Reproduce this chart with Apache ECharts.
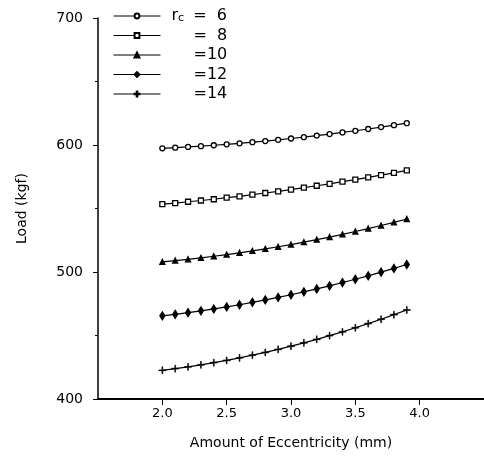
<!DOCTYPE html>
<html><head><meta charset="utf-8">
<script src="https://cdn.jsdelivr.net/npm/echarts@6/dist/echarts.min.js"></script>
<style>html,body{margin:0;padding:0;background:#fff}#c{width:484px;height:457px}</style>
</head><body><div id="c"></div>
<script>
// Data
const ecc = [2.0,2.1,2.2,2.3,2.4,2.5,2.6,2.7,2.8,2.9,3.0,3.1,3.2,3.3,3.4,3.5,3.6,3.7,3.8,3.9];
const rc6  = [597.4,597.9,598.5,599.1,599.8,600.5,601.3,602.2,603.1,604.1,605.1,606.2,607.4,608.6,609.9,611.2,612.6,614.1,615.6,617.2];
const rc8  = [553.4,554.3,555.3,556.3,557.3,558.5,559.6,560.9,562.2,563.5,564.9,566.4,567.9,569.4,571.1,572.7,574.5,576.3,578.1,580.0];
const rc10 = [508.0,509.0,510.0,511.1,512.4,513.7,515.1,516.6,518.2,519.9,521.6,523.5,525.5,527.5,529.6,531.9,534.2,536.6,539.1,541.7];
const rc12 = [465.5,466.7,468.0,469.4,470.9,472.5,474.2,476.1,478.0,480.0,482.1,484.4,486.7,489.1,491.7,494.3,497.0,499.9,502.8,505.9];
const rc14 = [422.6,423.9,425.3,426.9,428.6,430.4,432.4,434.5,436.7,439.1,441.6,444.2,447.0,449.9,452.9,456.1,459.4,462.8,466.4,470.1];
const xTicks = [2.0,2.5,3.0,3.5,4.0];
const seriesNames = ['6','8','10','12','14'];

const plus = 'path://M0,2.2 L2.2,2.2 L2.2,0 L2.8,0 L2.8,2.2 L5,2.2 L5,2.8 L2.8,2.8 L2.8,5 L2.2,5 L2.2,2.8 L0,2.8 Z';
const styles = [
  {symbol:'circle', size:5, fill:'#fff'},
  {symbol:'rect', size:5, fill:'#fff'},
  {symbol:'triangle', size:5, fill:'#000'},
  {symbol:'diamond', size:[5,8], fill:'#000'},
  {symbol:plus, size:7, fill:'#000'}
];
const allData = [rc6, rc8, rc10, rc12, rc14];
const font = '"DejaVu Sans", sans-serif';

const series = allData.map((d,i)=>({
  name: seriesNames[i],
  type:'line',
  data: d.map((v,j)=>[ecc[j], v]),
  symbol: styles[i].symbol,
  symbolSize: styles[i].size,
  showAllSymbol: true,
  lineStyle:{color:'#000', width:1.2},
  itemStyle:{color: styles[i].fill, borderColor:'#000', borderWidth: i===4 ? 0.6 : 1.3},
  emphasis:{disabled:true},
  animation:false
}));

const chart = echarts.init(document.getElementById('c'));
chart.setOption({
  animation:false,
  backgroundColor:'#fff',
  grid:{left:98, right:-2, top:18, bottom:58},
  legend:{
    orient:'vertical', left:108, top:3, itemWidth:47, itemHeight:6, itemGap:3.5,
    data: seriesNames,
    lineStyle:{width:1},
    formatter: function(n){
      if(n==='6') return '{r|r}{c|c}{e1|=  6}';
      return '{sp| }{e|=' + (n.length===1 ? '  ' + n : n) + '}';
    },
    textStyle:{
      fontFamily:font, color:'#000', fontSize:16, lineHeight:16,
      rich:{
        r:{fontSize:16, padding:[0,0,0,6], fontFamily:font, color:'#000'},
        c:{fontSize:11, verticalAlign:'bottom', padding:[6,0,0,0], fontFamily:font, color:'#000'},
        e1:{fontSize:16, padding:[0,0,0,9], fontFamily:font, color:'#000'},
        sp:{width:28, fontSize:16},
        e:{fontSize:16, fontFamily:font, color:'#000'}
      }
    }
  },
  xAxis:{
    type:'value', min:1.5, max:4.5, interval:0.5,
    name:'Amount of Eccentricity (mm)', nameLocation:'middle', nameGap:37,
    nameTextStyle:{fontFamily:font, fontSize:14, color:'#000'},
    axisLine:{show:true, lineStyle:{color:'#000', width:2}},
    axisTick:{show:true, length:6, inside:false, customValues:xTicks, lineStyle:{color:'#000', width:1}},
    axisLabel:{customValues:xTicks, fontFamily:font, fontSize:13, color:'#000', margin:8,
      formatter:v=>v.toFixed(1)},
    splitLine:{show:false}
  },
  yAxis:{
    type:'value', min:400, max:700, interval:100,
    name:'Load (kgf)', nameLocation:'middle', nameGap:69,
    nameTextStyle:{fontFamily:font, fontSize:14, color:'#000'},
    axisLine:{show:true, lineStyle:{color:'#000', width:1.5}},
    axisTick:{show:true, length:5, lineStyle:{color:'#000', width:1}},
    minorTick:{show:true, splitNumber:2, length:3, lineStyle:{color:'#000', width:1}},
    axisLabel:{fontFamily:font, fontSize:14, color:'#000', margin:15},
    splitLine:{show:false}
  },
  series: series
});
</script>
</body></html>
